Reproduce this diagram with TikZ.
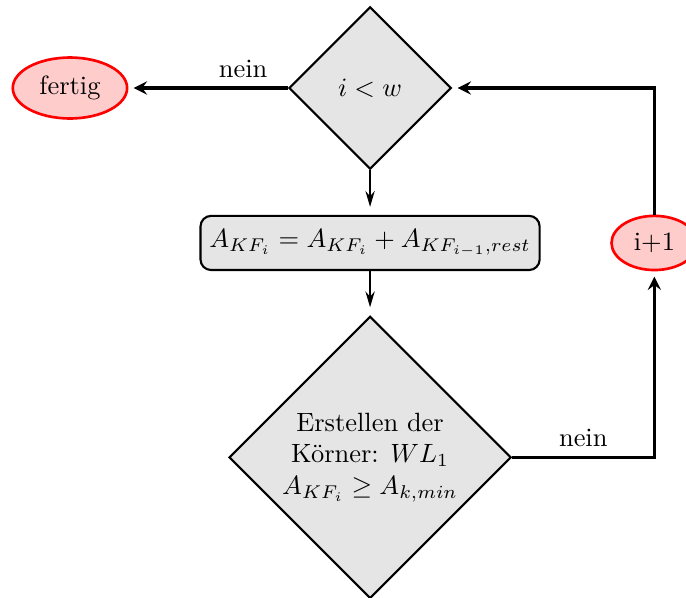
\documentclass[tikz,border=0pt]{standalone}
\usepackage{fontspec}
\usepackage{amsmath}
\usepackage{amssymb}
\usetikzlibrary{shapes.geometric,positioning,arrows.meta}

\begin{document}
\begin{tikzpicture}[%
>=stealth,
node distance=2cm,
on grid,
auto,
decision/.style={diamond, draw, thick, fill=gray!20, aspect=1, inner sep=0pt},
block/.style={rectangle, draw, thick, fill=gray!20, rounded corners=4pt, minimum width=4.5cm, minimum height=0.72cm},
terminal/.style={ellipse, draw=red, line width=1pt, fill=red!20, inner sep=0pt},
line/.style={->, very thick, shorten >=2pt},
flow/.style={-{Stealth[length=6pt,width=3.5pt,inset=2pt]}, thick, shorten >=3pt}
]

\useasboundingbox (-4.92,1.17) rectangle (4.20,-6.77);

\node[decision, minimum size=2.16cm] (check) {$i < w$};
\node[block] (update) [below=2.06cm of check] {$A_{KF_i} = A_{KF_i} + A_{KF_{i-1},rest}$};
\node[decision, minimum size=3.75cm, align=center] (grains) [below=2.85cm of update] {Erstellen der\\Körner: $WL_1$\\$A_{KF_i} \geq A_{k,min}$};
\node[terminal, minimum width=1.52cm, minimum height=0.81cm] (done) [left=3.99cm of check] {fertig};
\node[terminal, minimum width=1.14cm, minimum height=0.72cm] (inc) [right=3.78cm of update] {i+1};

\path[line] (check) edge node[above, pos=0.28] {nein} (done);
\path[flow] (check) edge (update);
\path[flow] (update) edge (grains);
\draw[line] (grains) -| node[above, pos=0.25] {nein} (inc);
\draw[line] (inc) |- (check);

\end{tikzpicture}
\end{document}
